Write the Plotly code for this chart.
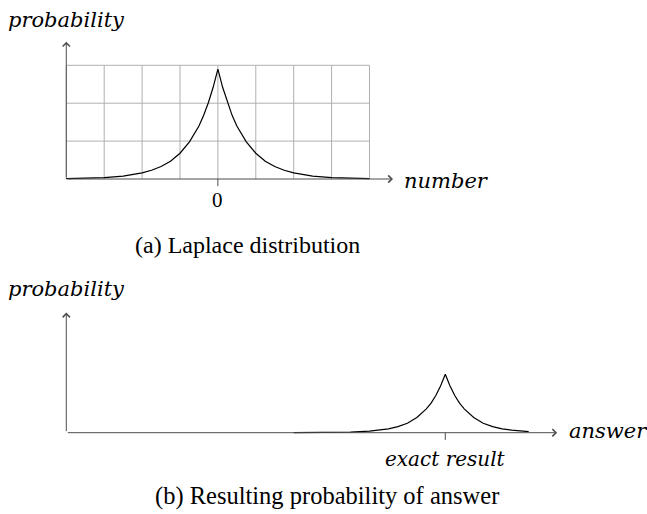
import plotly.graph_objects as go

# ── data (in grid units) ─────────────────────────────────────────────────────
# (a) Laplace distribution, centred on 0
lap_x = [-4, -3.5, -3, -2.5, -2, -1.75, -1.5, -1.25, -1, -0.75, -0.5, -0.375, -0.25, -0.125,
         0, 0.125, 0.25, 0.375, 0.5, 0.75, 1, 1.25, 1.5, 1.75, 2, 2.5, 3, 3.5, 4]
lap_y = [0.009, 0.018, 0.037, 0.077, 0.16, 0.23, 0.33, 0.47, 0.68, 0.98, 1.40, 1.68, 2.02, 2.42,
         2.90, 2.42, 2.02, 1.68, 1.40, 0.98, 0.68, 0.47, 0.33, 0.23, 0.16, 0.077, 0.037, 0.018, 0.009]

# (b) resulting probability of answer, centred on the exact result
ans_x = [6, 6.5, 7, 7.5, 8, 8.25, 8.5, 8.75, 9, 9.25, 9.5, 9.625, 9.75, 9.875,
         10, 10.125, 10.25, 10.375, 10.5, 10.75, 11, 11.25, 11.5, 11.75, 12, 12.2]
ans_y = [0.001, 0.003, 0.007, 0.017, 0.042, 0.066, 0.10, 0.16, 0.25, 0.40, 0.63, 0.78, 0.98, 1.23,
         1.54, 1.23, 0.98, 0.78, 0.63, 0.40, 0.25, 0.16, 0.10, 0.066, 0.042, 0.030]

grid_x = [-4, -3, -2, -1, 0, 1, 2, 3, 4]
grid_y = [0, 1, 2, 3]
exact_result = 10

AXIS = "#4d4d4d"
GRID = "#b0b0b0"
SERIF = "'Liberation Serif', 'Times New Roman', Times, serif"
MATH = "'DejaVu Serif', serif"
W, H = 647, 514

fig = go.Figure()
fig.add_trace(go.Scatter(x=lap_x, y=lap_y, mode="lines", xaxis="x", yaxis="y",
                         line=dict(color="black", width=1.2), hoverinfo="skip"))
fig.add_trace(go.Scatter(x=ans_x, y=ans_y, mode="lines", xaxis="x2", yaxis="y2",
                         line=dict(color="black", width=1.2), hoverinfo="skip"))

shapes = []
# grid of panel (a)
for gx in grid_x:
    shapes.append(dict(type="line", xref="x", yref="y", x0=gx, x1=gx, y0=grid_y[0], y1=grid_y[-1],
                       line=dict(color=GRID, width=1), layer="below"))
for gy in grid_y[1:]:
    shapes.append(dict(type="line", xref="x", yref="y", x0=grid_x[0], x1=grid_x[-1], y0=gy, y1=gy,
                       line=dict(color=GRID, width=1), layer="below"))
# ticks
shapes.append(dict(type="line", xref="x", yref="y", x0=0, x1=0, y0=0, y1=-0.19,
                   line=dict(color=AXIS, width=1)))
shapes.append(dict(type="line", xref="x2", yref="y2", x0=exact_result, x1=exact_result, y0=0, y1=-0.19,
                   line=dict(color=AXIS, width=1)))

def arrow(xr, yr, x0, y0, x1, y1):
    return dict(xref=xr, yref=yr, axref=xr, ayref=yr, x=x1, y=y1, ax=x0, ay=y0, text="",
                showarrow=True, arrowhead=4, arrowsize=1.4, arrowwidth=1, arrowcolor=AXIS,
                standoff=0, startstandoff=0)

def label(text, px, py, size, xanchor="center", family=MATH):
    return dict(xref="paper", yref="paper", x=px / W, y=1 - py / H, text=text,
                showarrow=False, xanchor=xanchor, yanchor="middle",
                font=dict(family=family, size=size, color="black"))

annotations = [
    arrow("x", "y", -4, 0, 4.62, 0),
    arrow("x", "y", -4, 0, -4, 3.62),
    arrow("x2", "y2", 0, 0, 12.95, 0),
    arrow("x2", "y2", 0, 0, 0, 3.17),
    label("<i>probability</i>", 6, 20, 21, "left"),
    label("<i>number</i>", 402, 181, 21, "left"),
    label("0", 217, 200, 21, family=SERIF),
    label("(a) Laplace distribution", 247, 245, 24, family=SERIF),
    label("<i>probability</i>", 6, 289, 21, "left"),
    label("<i>answer</i>", 567, 431, 21, "left"),
    label("<i>exact result</i>", 445, 459, 20),
    label("(b) Resulting probability of answer", 327, 496, 24.5, family=SERIF),
]

ax_common = dict(visible=False, showgrid=False, zeroline=False, fixedrange=True)
fig.update_layout(
    width=W, height=H,
    margin=dict(l=0, r=0, t=0, b=0),
    paper_bgcolor="white", plot_bgcolor="white",
    showlegend=False,
    font=dict(family=SERIF),
    xaxis=dict(domain=[0, 1], range=[-5.749, 11.322], anchor="y", **ax_common),
    yaxis=dict(domain=[0.5, 1], range=[-2.058, 4.723], anchor="x", **ax_common),
    xaxis2=dict(domain=[0, 1], range=[-1.749, 15.322], anchor="y2", **ax_common),
    yaxis2=dict(domain=[0, 0.5], range=[-2.145, 4.636], anchor="x2", **ax_common),
    shapes=shapes,
    annotations=annotations,
)

# drop the browser's default body margin so the figure sits at the page corner
fig.write_html("out.html", config={"displayModeBar": False},
               post_script="document.body.style.margin='0';")
